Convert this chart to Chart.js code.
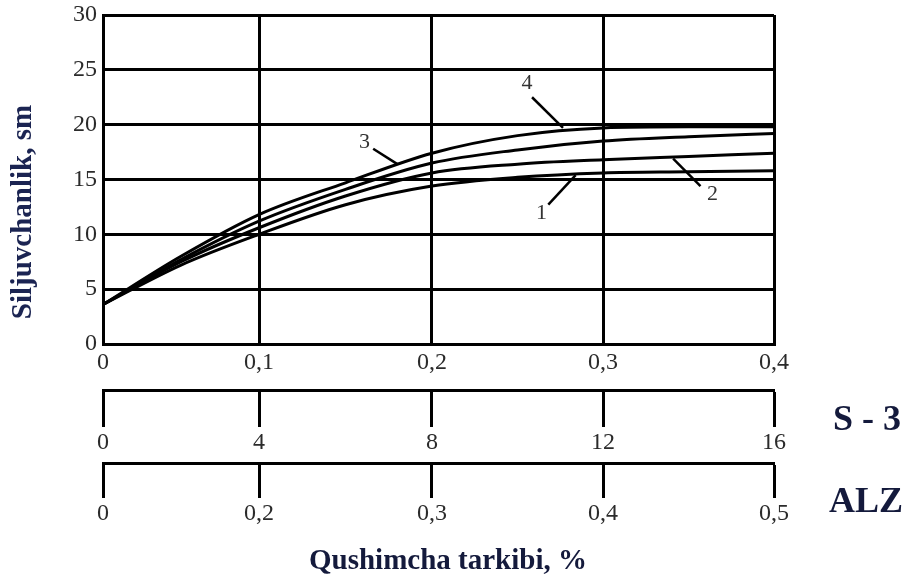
<!DOCTYPE html>
<html lang="uz">
<head>
    <meta charset="UTF-8">
    <title>Siljuvchanlik</title>
    <script src="https://cdn.jsdelivr.net/npm/chart.js"></script>
    <style>
        html, body { margin: 0; padding: 0; background: #fff; }
        #wrap { width: 907px; height: 580px; }
    </style>
</head>
<body>
<div id="wrap"><canvas id="chart"></canvas></div>
<script>
// values
const X_VALUES = [0, 0.05, 0.1, 0.15, 0.2, 0.25, 0.3, 0.35, 0.4];
const CURVE_1 = [3.6, 7.2, 10.0, 12.7, 14.4, 15.2, 15.6, 15.7, 15.8];
const CURVE_2 = [3.6, 7.5, 10.6, 13.5, 15.6, 16.4, 16.8, 17.1, 17.4];
const CURVE_3 = [3.6, 7.7, 11.2, 14.1, 16.5, 17.7, 18.5, 18.9, 19.2];
const CURVE_4 = [3.6, 8.0, 11.8, 14.7, 17.4, 19.0, 19.7, 19.8, 19.8];
const CURVE_NAMES = ['1', '2', '3', '4'];

const X_TICKS = [0, 0.1, 0.2, 0.3, 0.4];
const X_LABELS = ['0', '0,1', '0,2', '0,3', '0,4'];
const S3_TICKS = [0, 4, 8, 12, 16];
const S3_LABELS = ['0', '4', '8', '12', '16'];
const ALZ_TICKS = [0, 0.2, 0.3, 0.4, 0.5];
const ALZ_LABELS = ['0', '0,2', '0,3', '0,4', '0,5'];
const Y_TICKS = [0, 5, 10, 15, 20, 25, 30];

// the drawn axes are not evenly spaced: where each tick sits along the width
const TICK_FRACTIONS = [0, 0.2325, 0.4903, 0.7452, 1];
const TICK_VALUES = { x: X_TICKS, s3: S3_TICKS, alz: ALZ_TICKS };

// label text spot, leader start, leader end (in x/y data units)
const NAME_AT = [[0.264, 11.9], [0.364, 13.7], [0.161, 18.4], [0.2556, 23.8]];
const LEADER_FROM = [[0.268, 12.7], [0.357, 14.4], [0.166, 17.8], [0.2585, 22.5]];
const LEADER_TO = [[0.284, 15.4], [0.341, 16.9], [0.180, 16.4], [0.2766, 19.7]];

class PiecewiseScale extends Chart.LinearScale {
    toDecimal(v) {
        const vals = TICK_VALUES[this.id];
        for (let i = 1; i < vals.length; i++) {
            if (v <= vals[i] || i === vals.length - 1) {
                const t = (v - vals[i - 1]) / (vals[i] - vals[i - 1]);
                return TICK_FRACTIONS[i - 1] + t * (TICK_FRACTIONS[i] - TICK_FRACTIONS[i - 1]);
            }
        }
        return 0;
    }
    getPixelForValue(value) {
        if (value === null || value === undefined) return NaN;
        return this.getPixelForDecimal(this.toDecimal(value));
    }
    getValueForPixel(pixel) {
        const d = this.getDecimalForPixel(pixel);
        const vals = TICK_VALUES[this.id];
        for (let i = 1; i < vals.length; i++) {
            if (d <= TICK_FRACTIONS[i] || i === vals.length - 1) {
                const t = (d - TICK_FRACTIONS[i - 1]) / (TICK_FRACTIONS[i] - TICK_FRACTIONS[i - 1]);
                return vals[i - 1] + t * (vals[i] - vals[i - 1]);
            }
        }
        return 0;
    }
}
PiecewiseScale.id = 'piecewise';
PiecewiseScale.defaults = Chart.LinearScale.defaults;
Chart.register(PiecewiseScale);

const SERIF = '"Liberation Serif", "DejaVu Serif", serif';
const TICK_FONT = { family: SERIF, size: 24 };
const TICK_COLOR = '#2b2b2b';

function points(ys) {
    return X_VALUES.map((x, i) => ({ x: x, y: ys[i] }));
}

function curve(ys) {
    return {
        data: points(ys),
        borderColor: '#000',
        borderWidth: 3,
        pointRadius: 0,
        fill: false,
        cubicInterpolationMode: 'monotone'
    };
}

function fixedTicks(values) {
    return function (scale) {
        scale.ticks = values.map(v => ({ value: v }));
    };
}

// fixed box size, and no label overhang pushing the plot area around
function fixHeight(h) {
    return function (s) {
        s.height = h;
        s.paddingLeft = 0;
        s.paddingRight = 0;
    };
}

function lowerAxis(values, labels, weight, height, tickLen, pad) {
    return {
        type: 'piecewise',
        position: 'bottom',
        weight: weight,
        min: values[0],
        max: values[values.length - 1],
        afterBuildTicks: fixedTicks(values),
        afterFit: fixHeight(height),
        border: { display: true, color: '#000', width: 3 },
        grid: {
            drawOnChartArea: false,
            drawTicks: true,
            tickLength: tickLen,
            tickWidth: 3,
            tickColor: '#000'
        },
        ticks: {
            autoSkip: false,
            maxRotation: 0,
            padding: pad,
            font: TICK_FONT,
            color: TICK_COLOR,
            callback: (v, i) => labels[i]
        }
    };
}

// free texts: curve numbers with leaders, axis names
const textPlugin = {
    id: 'texts',
    afterDraw(chart) {
        const ctx = chart.ctx;
        const x = chart.scales.x, y = chart.scales.y;
        ctx.save();
        ctx.strokeStyle = '#000';
        ctx.lineWidth = 2.5;
        ctx.fillStyle = '#333';
        ctx.font = '22px ' + SERIF;
        ctx.textAlign = 'center';
        ctx.textBaseline = 'middle';
        CURVE_NAMES.forEach((name, i) => {
            ctx.beginPath();
            ctx.moveTo(x.getPixelForValue(LEADER_FROM[i][0]), y.getPixelForValue(LEADER_FROM[i][1]));
            ctx.lineTo(x.getPixelForValue(LEADER_TO[i][0]), y.getPixelForValue(LEADER_TO[i][1]));
            ctx.stroke();
            ctx.fillText(name, x.getPixelForValue(NAME_AT[i][0]), y.getPixelForValue(NAME_AT[i][1]));
        });

        ctx.fillStyle = '#141a3c';
        ctx.font = 'bold 36px ' + SERIF;
        ctx.fillText('S - 3', 867, 421);
        ctx.fillText('ALZ', 866, 503);

        ctx.font = 'bold 29px ' + SERIF;
        ctx.fillText('Qushimcha tarkibi, %', 448, 562);

        ctx.fillStyle = '#1b2452';
        ctx.translate(24, 212);
        ctx.rotate(-Math.PI / 2);
        ctx.font = 'bold 29px ' + SERIF;
        ctx.fillText('Siljuvchanlik, sm', 0, 0);
        ctx.restore();
    }
};

new Chart(document.getElementById('chart'), {
    type: 'line',
    data: {
        datasets: [curve(CURVE_1), curve(CURVE_2), curve(CURVE_3), curve(CURVE_4)]
    },
    options: {
        responsive: true,
        maintainAspectRatio: false,
        animation: false,
        layout: { padding: { left: 0, right: 133, top: 15, bottom: 0 } },
        plugins: {
            legend: { display: false },
            tooltip: { enabled: false }
        },
        scales: {
            x: {
                type: 'piecewise',
                position: 'bottom',
                weight: 0,
                min: 0,
                max: 0.4,
                afterBuildTicks: fixedTicks(X_TICKS),
                afterFit: fixHeight(46),
                border: { display: true, color: '#000', width: 3 },
                grid: { color: '#000', lineWidth: 3, drawTicks: false },
                ticks: {
                    autoSkip: false,
                    maxRotation: 0,
                    padding: 4,
                    font: TICK_FONT,
                    color: TICK_COLOR,
                    callback: (v, i) => X_LABELS[i]
                }
            },
            s3: lowerAxis(S3_TICKS, S3_LABELS, 1, 73, 37, 1),
            alz: lowerAxis(ALZ_TICKS, ALZ_LABELS, 2, 117, 35, 1),
            y: {
                min: 0,
                max: 30,
                afterBuildTicks: fixedTicks(Y_TICKS),
                afterFit: s => {
                    s.width = 103;
                    s.paddingTop = 0;
                    s.paddingBottom = 0;
                },
                border: { display: true, color: '#000', width: 3 },
                grid: { color: '#000', lineWidth: 3, drawTicks: false },
                ticks: {
                    padding: 6,
                    font: TICK_FONT,
                    color: TICK_COLOR
                }
            }
        }
    },
    plugins: [textPlugin]
});
</script>
</body>
</html>
